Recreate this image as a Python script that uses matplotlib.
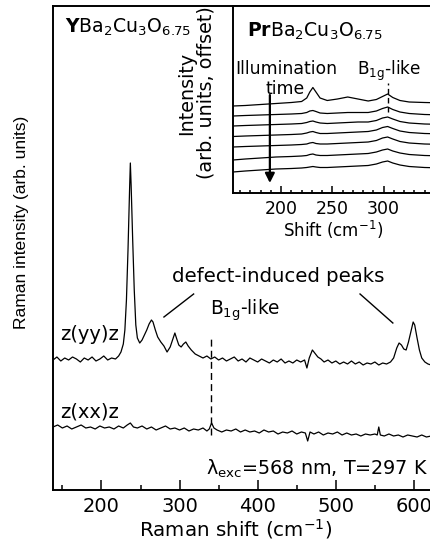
import matplotlib
matplotlib.use('Agg')
import matplotlib.pyplot as plt
from matplotlib.ticker import MultipleLocator, FixedLocator

rcParams = [
    ['font.family', 'DejaVu Sans'],
    ['font.size', 14],
    ['mathtext.fontset', 'dejavusans'],
    ['axes.linewidth', 1.4],
    ['lines.linewidth', 0.9],
]
plt.rcParams.update(dict(rcParams))

# main spectra, z(yy)z (intensity in arb. units)
yy_shift = [138, 143, 148, 153, 158, 163, 168, 173, 178, 183, 188, 193, 198, 203, 208, 213, 218, 222,
            225, 228, 230, 232, 234, 236, 237, 238, 240, 242, 244, 246, 249, 252, 255, 258, 261, 264,
            266, 269, 272, 276, 280, 284, 288, 291, 294, 296, 299, 302, 305, 308, 311, 315, 320, 325,
            330, 335, 340, 345, 350, 355, 360, 365, 370, 375, 380, 385, 390, 395, 400, 405, 410, 415,
            420, 425, 430, 435, 440, 445, 450, 455, 460, 463, 466, 470, 473, 477, 481, 485, 490, 495,
            500, 505, 510, 515, 520, 525, 530, 535, 540, 545, 550, 555, 560, 565, 570, 574, 578, 581,
            584, 587, 590, 593, 596, 599, 601, 604, 607, 610, 614, 618, 622, 626, 630, 635, 640, 645, 650]
yy_int = [130, 133, 129, 132, 130, 133, 131, 128, 132, 130, 133, 129, 131, 134, 130, 132, 131, 134,
          138, 146, 160, 190, 240, 300, 327, 305, 250, 200, 165, 152, 147, 150, 155, 160, 166, 170,
          168, 160, 153, 148, 144, 138, 143, 150, 157, 152, 145, 143, 146, 148, 144, 140, 136, 134,
          132, 134, 131, 133, 130, 132, 129, 131, 133, 129, 131, 128, 132, 130, 128, 131, 129, 127,
          130, 128, 131, 127, 129, 127, 130, 128, 130, 122, 132, 140, 137, 133, 131, 128, 130, 127,
          129, 126, 128, 126, 129, 126, 128, 125, 127, 126, 128, 125, 127, 126, 128, 132, 142, 147,
          145, 141, 140, 148, 158, 168, 165, 152, 140, 132, 128, 126, 125, 127, 124, 126, 125, 124, 125]

# main spectra, z(xx)z
xx_shift = [138, 144, 150, 156, 162, 168, 174, 180, 186, 192, 198, 204, 210, 216, 222, 228, 233, 237,
            241, 246, 252, 258, 264, 270, 276, 282, 288, 294, 300, 306, 312, 318, 324, 330, 335, 338,
            341, 344, 348, 354, 360, 366, 372, 378, 384, 390, 396, 402, 408, 414, 420, 426, 432, 438,
            444, 450, 456, 461, 464, 467, 472, 478, 484, 490, 496, 502, 508, 514, 520, 526, 532, 538,
            544, 550, 553, 555, 557, 562, 568, 574, 580, 586, 592, 598, 604, 610, 616, 622, 628, 634,
            640, 646, 650]
xx_int = [63, 65, 62, 64, 61, 63, 65, 62, 63, 61, 64, 62, 63, 61, 64, 62, 65, 67,
          63, 62, 64, 61, 63, 60, 62, 64, 61, 62, 60, 62, 59, 61, 60, 62, 59, 61,
          67, 62, 60, 58, 60, 59, 61, 58, 60, 58, 59, 57, 60, 58, 59, 56, 58, 57,
          59, 56, 58, 57, 49, 58, 56, 58, 55, 57, 56, 58, 55, 57, 55, 56, 54, 56,
          55, 56, 55, 63, 55, 54, 56, 54, 55, 53, 55, 54, 53, 55, 53, 54, 52, 54,
          53, 52, 53]

b1g_main = 340

# inset: PrBa2Cu3O6.75, traces offset, top = shortest illumination
pr_shift = [153, 165, 180, 195, 210, 220, 225, 228, 231, 234, 238, 245, 255, 265, 275, 285,
            293, 299, 304, 309, 316, 325, 340, 360]
pr_traces = [
    [87, 87.5, 88.5, 89.5, 90.5, 91.5, 95, 101, 105.5, 101, 95, 92.5, 94, 96, 94, 92,
     93.5, 96.5, 99, 95.5, 92.5, 91, 90.5, 90],
    [77, 77.5, 78, 78.5, 79, 79.5, 80.5, 82, 82.5, 81.5, 80, 79.5, 80, 80.5, 80.5, 80.5,
     82, 84.5, 86, 83.5, 81, 79.5, 78.5, 78],
    [67, 67.5, 68, 68.5, 69, 69.5, 70.5, 71.5, 72, 71, 70, 69.5, 70, 70.5, 71, 71,
     72.5, 75, 76, 74, 71.5, 70, 69, 68.5],
    [56.5, 57, 57.5, 58, 58.5, 59, 60, 61, 61.5, 60.5, 59.5, 59.5, 60, 60.5, 61, 61.5,
     63, 65.5, 66.5, 64.5, 62, 60.5, 59.5, 59],
    [46, 46.5, 47, 47.5, 48, 48.5, 49, 50, 50.5, 49.5, 49, 49, 49.5, 50, 50.5, 51,
     52.5, 55, 56, 54, 51.5, 50, 49, 48.5],
    [33, 34, 35, 36, 36.5, 37, 37.5, 38.5, 39, 38, 37.5, 37.5, 38, 38.5, 39, 39.5,
     41, 43, 44, 42, 40, 38.5, 37.5, 37],
    [21, 22, 23, 24, 24.5, 25, 25.5, 26, 26.5, 26, 25.5, 25.5, 26, 26.5, 27, 27.5,
     29, 31, 32, 30, 28, 26.5, 25.5, 25],
]
b1g_inset = 304
inset_ticks = [200, 250, 300]

W, H = 430, 548
fig = plt.figure(figsize=(W / 100, H / 100), dpi=100)

# ---- main panel ----
ax = fig.add_axes([53 / W, 58 / H, 400 / W, 484 / H])
ax.plot(yy_shift, yy_int, color='black')
ax.plot(xx_shift, xx_int, color='black')
ax.plot([b1g_main, b1g_main], [55, 153], color='black', lw=1, ls=(0, (5, 3)))
ax.set_xlim(138, 650)
ax.set_ylim(0, 484)
ax.xaxis.set_major_locator(MultipleLocator(100))
ax.xaxis.set_minor_locator(MultipleLocator(50))
ax.tick_params(axis='x', which='major', direction='in', length=7, width=1.1, pad=5,
               labelsize=14)
ax.tick_params(axis='x', which='minor', direction='in', length=3.5, width=1.1)
ax.tick_params(axis='y', which='both', left=False, labelleft=False)
ax.set_xlabel('Raman shift (cm$^{-1}$)', fontsize=14.3)
ax.xaxis.set_label_coords(0.4575, -0.055)
fig.text(22 / W, 1 - 222 / H, 'Raman intensity (arb. units)', rotation=90,
         ha='center', va='center', fontsize=12.5, family='Liberation Sans')

ax.text(153, 457, r'$\mathbf{Y}$Ba$_\mathrm{2}$Cu$_\mathrm{3}$O$_\mathrm{6.75}$',
        va='baseline', fontsize=13.6)
ax.text(147, 155, 'z(yy)z', va='center')
ax.text(147, 78, 'z(xx)z', va='center')
ax.text(290, 214, 'defect-induced peaks', va='center', fontsize=14.2)
ax.plot([318, 280], [196, 173], color='black', lw=1)
ax.plot([531, 573], [196, 167], color='black', lw=1)
ax.text(339, 180, r'B$_\mathrm{1g}$-like', va='center', fontsize=13.4)
ax.text(618, 21, r'λ$_\mathrm{exc}$=568 nm, T=297 K', ha='right', va='center',
        fontsize=13.8)

# ---- inset ----
ins = fig.add_axes([233 / W, (H - 193) / H, 212 / W, 187 / H])
for tr in pr_traces:
    ins.plot(pr_shift, tr, color='black')
ins.plot([b1g_inset, b1g_inset], [81, 110], color='black', lw=1, ls=(0, (4, 2.5)))
ins.set_xlim(153, 360)
ins.set_ylim(0, 187)
ins.xaxis.set_major_locator(FixedLocator(inset_ticks))
ins.xaxis.set_minor_locator(MultipleLocator(10))
ins.tick_params(axis='x', which='major', direction='in', length=5, width=1.1, pad=5,
                labelsize=12.5)
ins.tick_params(axis='x', which='minor', direction='in', length=2.5, width=1.1)
ins.tick_params(axis='y', which='both', left=False, labelleft=False)
ins.set_xlabel('Shift (cm$^{-1}$)', fontsize=12)
ins.xaxis.set_label_coords(0.474, -0.14)
# inset y label, two lines
fig.text(187 / W, 1 - 93 / H, 'Intensity', rotation=90,
         ha='center', va='center', fontsize=13.8)
fig.text(206.5 / W, 1 - 93 / H, '(arb. units, offset)', rotation=90,
         ha='center', va='center', fontsize=13.8)

ins.text(166.5, 156, r'$\mathbf{Pr}$Ba$_\mathrm{2}$Cu$_\mathrm{3}$O$_\mathrm{6.75}$',
         va='baseline', fontsize=13.6)
ins.text(155, 119, 'Illumination', va='baseline', fontsize=12.4)
ins.text(185, 99, 'time', va='baseline', fontsize=12.4)
ins.text(274, 118, r'B$_\mathrm{1g}$-like', va='baseline', fontsize=12.2)
ins.annotate('', xy=(189, 10), xytext=(189, 98),
             arrowprops=dict(arrowstyle='-|>', color='black', lw=1.6,
                             mutation_scale=14, shrinkA=0, shrinkB=0))

fig.savefig('out.png', dpi=100)
